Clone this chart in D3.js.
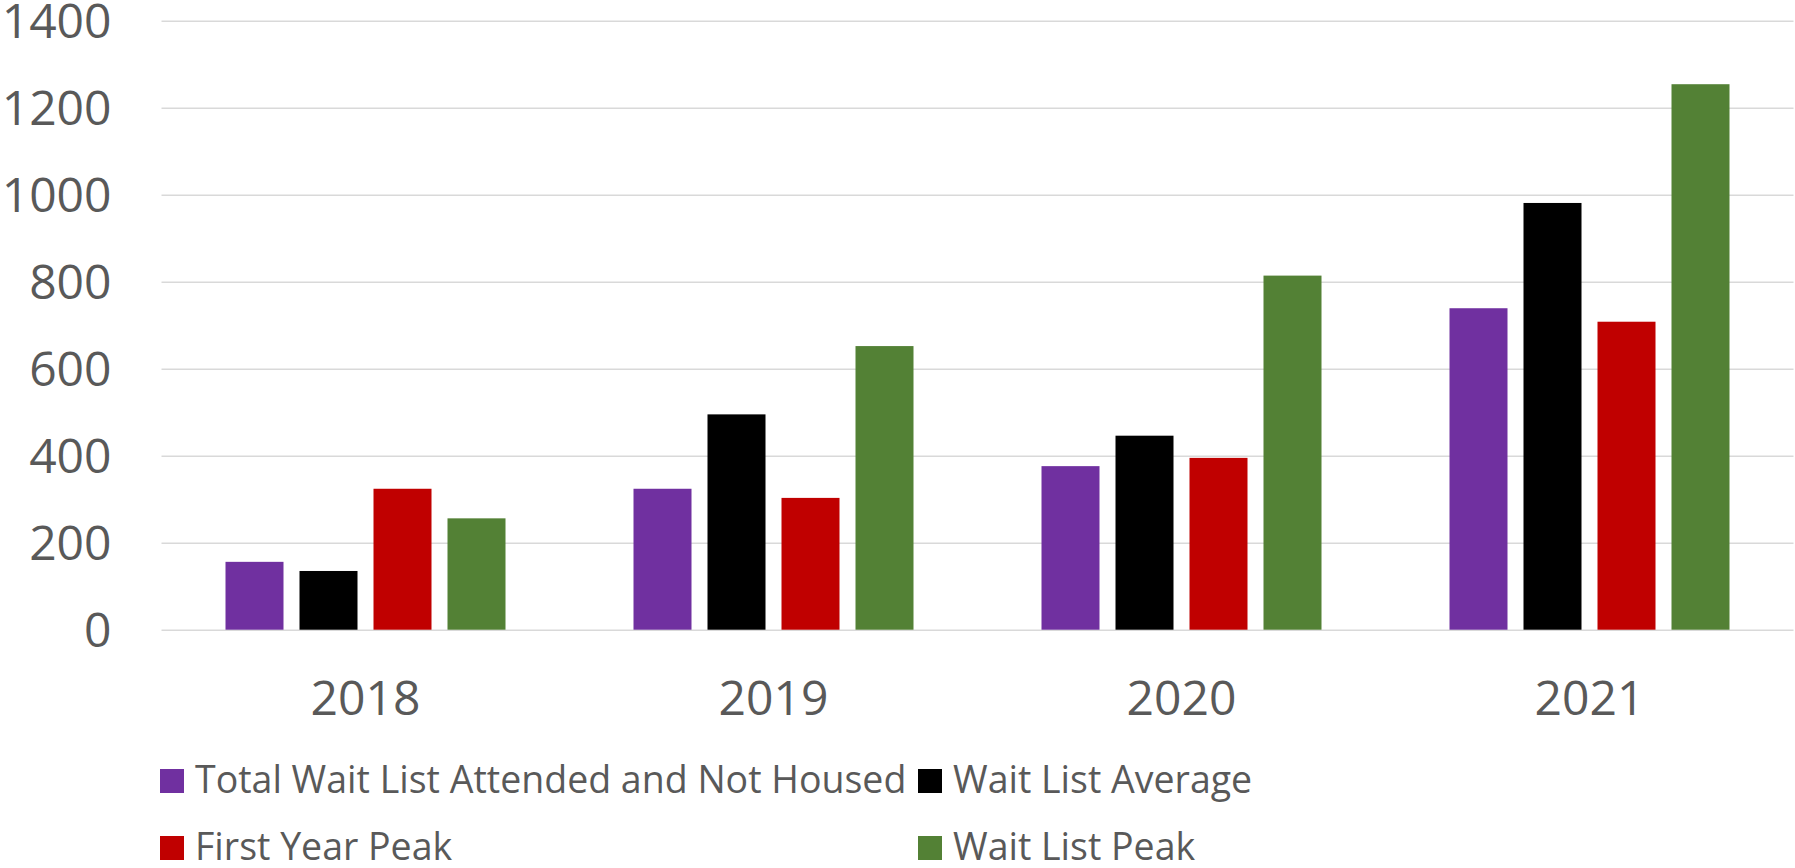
<!DOCTYPE html>
<html>
<head>
<meta charset="utf-8">
<script src="https://cdn.jsdelivr.net/npm/d3@7"></script>
<style>
  html, body { margin: 0; padding: 0; background: #fff; }
  svg { display: block; font-family: "Open Sans", sans-serif; }
</style>
</head>
<body>
<svg id="chart" width="1795" height="868"></svg>
<script>
// data
const years = ['2018', '2019', '2020', '2021'];
const seriesNames = [
    'Total Wait List Attended and Not Housed',
    'Wait List Average',
    'First Year Peak',
    'Wait List Peak'
];
const seriesColors = ['#7030A0', '#000000', '#C00000', '#538135'];
const attendedNotHoused = [156, 324, 376, 739];
const waitListAverage = [135, 495, 446, 981];
const firstYearPeak = [324, 303, 395, 708];
const waitListPeak = [256, 652, 814, 1254];
const yTicks = [0, 200, 400, 600, 800, 1000, 1200, 1400];

const seriesValues = [attendedNotHoused, waitListAverage, firstYearPeak, waitListPeak];

const svg = d3.select('#chart');
// plot area
const plotLeft = 161.5, plotRight = 1793.5, plotTop = 20.7, plotBottom = 629.7;

let x0 = d3.scaleBand().domain(years).range([plotLeft, plotRight]).padding(0);
let x1 = d3.scaleBand().domain(d3.range(seriesNames.length)).range([64, 344])
    .paddingInner(16 / 74).paddingOuter(0);
let y = d3.scaleLinear().domain([0, 1400]).range([plotBottom, plotTop]);

// gridlines + y labels
let yAxis = svg.append('g')
    .attr('transform', 'translate(' + plotLeft + ',0)')
    .call(d3.axisLeft(y).tickValues(yTicks).tickFormat(d3.format('d'))
        .tickSizeInner(-(plotRight - plotLeft)).tickSizeOuter(0).tickPadding(50));
yAxis.select('.domain').remove();
yAxis.selectAll('.tick line').attr('stroke', '#d9d9d9').attr('stroke-width', 1.4);
yAxis.selectAll('.tick text')
    .attr('fill', '#595959')
    .attr('font-size', 48)
    .attr('font-family', '"Open Sans", sans-serif')
    .attr('dy', '0.36em');

// x labels
let xAxis = svg.append('g')
    .attr('transform', 'translate(0,' + plotBottom + ')')
    .call(d3.axisBottom(x0).tickSize(0).tickPadding(51));
xAxis.select('.domain').remove();
xAxis.selectAll('.tick text')
    .attr('fill', '#595959')
    .attr('font-size', 48)
    .attr('font-family', '"Open Sans", sans-serif');

// bars
let groups = svg.append('g').selectAll('g')
    .data(years)
    .join('g')
    .attr('transform', d => 'translate(' + x0(d) + ',0)');

groups.selectAll('rect')
    .data((d, i) => seriesValues.map((vals, s) => ({s: s, v: vals[i]})))
    .join('rect')
    .attr('x', d => x1(d.s))
    .attr('y', d => y(d.v))
    .attr('width', x1.bandwidth())
    .attr('height', d => y(0) - y(d.v))
    .attr('fill', d => seriesColors[d.s]);

// legend, two columns by two rows
const legendCols = [160, 918], legendRows = [769, 836];
let legend = svg.append('g').selectAll('g')
    .data(seriesNames)
    .join('g')
    .attr('transform', (d, i) => 'translate(' + legendCols[i % 2] + ',' + legendRows[Math.floor(i / 2)] + ')');
legend.append('rect')
    .attr('width', 24).attr('height', 24)
    .attr('fill', (d, i) => seriesColors[i]);
legend.append('text')
    .attr('x', 35).attr('y', 24)
    .attr('fill', '#595959')
    .attr('font-size', 37.5)
    .text(d => d);
</script>
</body>
</html>
